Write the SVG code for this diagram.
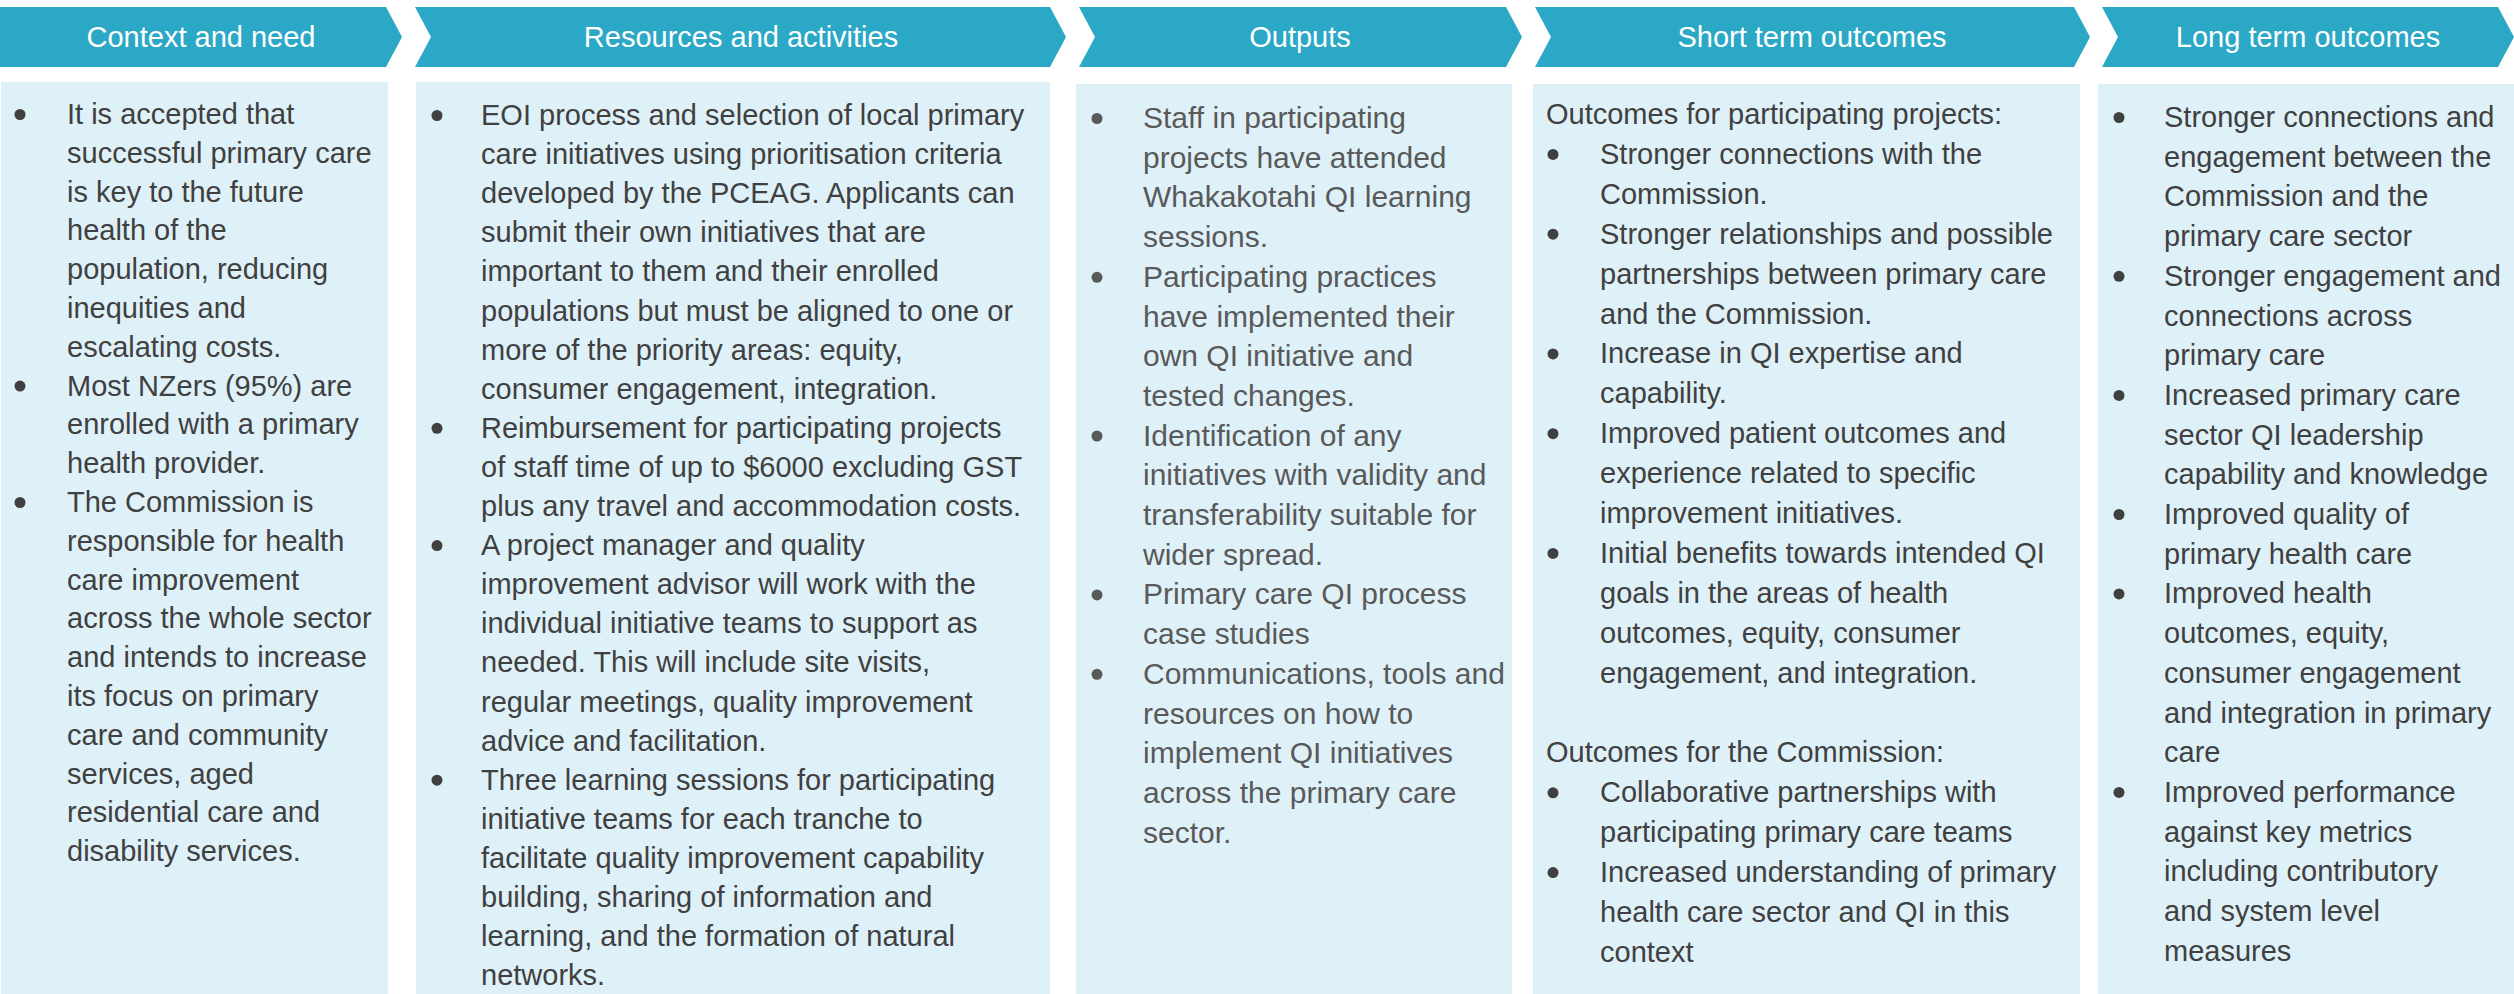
<svg xmlns="http://www.w3.org/2000/svg" width="2514" height="994" viewBox="0 0 2514 994">
  <style>
    .hdr { fill: #2BA8C6; }
    .htxt { font-family: "Liberation Sans", Arial, sans-serif; font-size: 29px; fill: #FFFFFF; text-anchor: middle; }
    .box { fill: #DFF1F8; }
    .txt { font-family: "Liberation Sans", Arial, sans-serif; font-size: 29px; fill: #404040; }
    .txt3 { font-family: "Liberation Sans", Arial, sans-serif; font-size: 30px; fill: #595959; }
    .dot { fill: #404040; }
    .dot3 { fill: #595959; }
  </style>
  <rect width="2514" height="994" fill="#FFFFFF"/>

  <!-- Column 1: Context and need -->
  <g id="context-and-need">
    <polygon class="hdr" points="0,7 386,7 402,37 386,67 0,67"/>
    <text class="htxt" x="201" y="47">Context and need</text>
    <rect class="box" x="1" y="82" width="387" height="912"/>
    <g class="dot">
      <circle cx="20" cy="114.5" r="5.5"/>
      <circle cx="20" cy="386.1" r="5.5"/>
      <circle cx="20" cy="502.5" r="5.5"/>
    </g>
    <text class="txt">
      <tspan x="67" y="124">It is accepted that</tspan>
      <tspan x="67" y="162.8">successful primary care</tspan>
      <tspan x="67" y="201.6">is key to the future</tspan>
      <tspan x="67" y="240.4">health of the</tspan>
      <tspan x="67" y="279.2">population, reducing</tspan>
      <tspan x="67" y="318">inequities and</tspan>
      <tspan x="67" y="356.8">escalating costs.</tspan>
      <tspan x="67" y="395.6">Most NZers (95%) are</tspan>
      <tspan x="67" y="434.4">enrolled with a primary</tspan>
      <tspan x="67" y="473.2">health provider.</tspan>
      <tspan x="67" y="512">The Commission is</tspan>
      <tspan x="67" y="550.8">responsible for health</tspan>
      <tspan x="67" y="589.6">care improvement</tspan>
      <tspan x="67" y="628.4">across the whole sector</tspan>
      <tspan x="67" y="667.2">and intends to increase</tspan>
      <tspan x="67" y="706">its focus on primary</tspan>
      <tspan x="67" y="744.8">care and community</tspan>
      <tspan x="67" y="783.6">services, aged</tspan>
      <tspan x="67" y="822.4">residential care and</tspan>
      <tspan x="67" y="861.2">disability services.</tspan>
    </text>
  </g>

  <!-- Column 2: Resources and activities -->
  <g id="resources-and-activities">
    <polygon class="hdr" points="415,7 1050,7 1066,37 1050,67 415,67 431,37"/>
    <text class="htxt" x="741" y="47">Resources and activities</text>
    <rect class="box" x="416" y="82" width="634" height="912"/>
    <g class="dot">
      <circle cx="437" cy="115.5" r="5.5"/>
      <circle cx="437" cy="428.3" r="5.5"/>
      <circle cx="437" cy="545.6" r="5.5"/>
      <circle cx="437" cy="780.2" r="5.5"/>
    </g>
    <text class="txt">
      <tspan x="481" y="125">EOI process and selection of local primary</tspan>
      <tspan x="481" y="164.1">care initiatives using prioritisation criteria</tspan>
      <tspan x="481" y="203.2">developed by the PCEAG. Applicants can</tspan>
      <tspan x="481" y="242.3">submit their own initiatives that are</tspan>
      <tspan x="481" y="281.4">important to them and their enrolled</tspan>
      <tspan x="481" y="320.5">populations but must be aligned to one or</tspan>
      <tspan x="481" y="359.6">more of the priority areas: equity,</tspan>
      <tspan x="481" y="398.7">consumer engagement, integration.</tspan>
      <tspan x="481" y="437.8">Reimbursement for participating projects</tspan>
      <tspan x="481" y="476.9">of staff time of up to $6000 excluding GST</tspan>
      <tspan x="481" y="516">plus any travel and accommodation costs.</tspan>
      <tspan x="481" y="555.1">A project manager and quality</tspan>
      <tspan x="481" y="594.2">improvement advisor will work with the</tspan>
      <tspan x="481" y="633.3">individual initiative teams to support as</tspan>
      <tspan x="481" y="672.4">needed. This will include site visits,</tspan>
      <tspan x="481" y="711.5">regular meetings, quality improvement</tspan>
      <tspan x="481" y="750.6">advice and facilitation.</tspan>
      <tspan x="481" y="789.7">Three learning sessions for participating</tspan>
      <tspan x="481" y="828.8">initiative teams for each tranche to</tspan>
      <tspan x="481" y="867.9">facilitate quality improvement capability</tspan>
      <tspan x="481" y="907">building, sharing of information and</tspan>
      <tspan x="481" y="946.1">learning, and the formation of natural</tspan>
      <tspan x="481" y="985.2">networks.</tspan>
    </text>
  </g>

  <!-- Column 3: Outputs -->
  <g id="outputs">
    <polygon class="hdr" points="1079,7 1506,7 1522,37 1506,67 1079,67 1095,37"/>
    <text class="htxt" x="1300" y="47">Outputs</text>
    <rect class="box" x="1076" y="84" width="436" height="910"/>
    <g class="dot3">
      <circle cx="1097" cy="118.5" r="5.5"/>
      <circle cx="1097" cy="277.3" r="5.5"/>
      <circle cx="1097" cy="436.1" r="5.5"/>
      <circle cx="1097" cy="594.9" r="5.5"/>
      <circle cx="1097" cy="674.3" r="5.5"/>
    </g>
    <text class="txt3">
      <tspan x="1143" y="128">Staff in participating</tspan>
      <tspan x="1143" y="167.7">projects have attended</tspan>
      <tspan x="1143" y="207.4">Whakakotahi QI learning</tspan>
      <tspan x="1143" y="247.1">sessions.</tspan>
      <tspan x="1143" y="286.8">Participating practices</tspan>
      <tspan x="1143" y="326.5">have implemented their</tspan>
      <tspan x="1143" y="366.2">own QI initiative and</tspan>
      <tspan x="1143" y="405.9">tested changes.</tspan>
      <tspan x="1143" y="445.6">Identification of any</tspan>
      <tspan x="1143" y="485.3">initiatives with validity and</tspan>
      <tspan x="1143" y="525">transferability suitable for</tspan>
      <tspan x="1143" y="564.7">wider spread.</tspan>
      <tspan x="1143" y="604.4">Primary care QI process</tspan>
      <tspan x="1143" y="644.1">case studies</tspan>
      <tspan x="1143" y="683.8">Communications, tools and</tspan>
      <tspan x="1143" y="723.5">resources on how to</tspan>
      <tspan x="1143" y="763.2">implement QI initiatives</tspan>
      <tspan x="1143" y="802.9">across the primary care</tspan>
      <tspan x="1143" y="842.6">sector.</tspan>
    </text>
  </g>

  <!-- Column 4: Short term outcomes -->
  <g id="short-term-outcomes">
    <polygon class="hdr" points="1535,7 2074,7 2090,37 2074,67 1535,67 1551,37"/>
    <text class="htxt" x="1812" y="47">Short term outcomes</text>
    <rect class="box" x="1533" y="84" width="547" height="910"/>
    <g class="dot">
      <circle cx="1553" cy="154.4" r="5.5"/>
      <circle cx="1553" cy="234.2" r="5.5"/>
      <circle cx="1553" cy="353.9" r="5.5"/>
      <circle cx="1553" cy="433.7" r="5.5"/>
      <circle cx="1553" cy="553.4" r="5.5"/>
      <circle cx="1553" cy="792.8" r="5.5"/>
      <circle cx="1553" cy="872.6" r="5.5"/>
    </g>
    <text class="txt">
      <tspan x="1546" y="124">Outcomes for participating projects:</tspan>
      <tspan x="1600" y="163.9">Stronger connections with the</tspan>
      <tspan x="1600" y="203.8">Commission.</tspan>
      <tspan x="1600" y="243.7">Stronger relationships and possible</tspan>
      <tspan x="1600" y="283.6">partnerships between primary care</tspan>
      <tspan x="1600" y="323.5">and the Commission.</tspan>
      <tspan x="1600" y="363.4">Increase in QI expertise and</tspan>
      <tspan x="1600" y="403.3">capability.</tspan>
      <tspan x="1600" y="443.2">Improved patient outcomes and</tspan>
      <tspan x="1600" y="483.1">experience related to specific</tspan>
      <tspan x="1600" y="523">improvement initiatives.</tspan>
      <tspan x="1600" y="562.9">Initial benefits towards intended QI</tspan>
      <tspan x="1600" y="602.8">goals in the areas of health</tspan>
      <tspan x="1600" y="642.7">outcomes, equity, consumer</tspan>
      <tspan x="1600" y="682.6">engagement, and integration.</tspan>
      <tspan x="1546" y="762.4">Outcomes for the Commission:</tspan>
      <tspan x="1600" y="802.3">Collaborative partnerships with</tspan>
      <tspan x="1600" y="842.2">participating primary care teams</tspan>
      <tspan x="1600" y="882.1">Increased understanding of primary</tspan>
      <tspan x="1600" y="922">health care sector and QI in this</tspan>
      <tspan x="1600" y="961.9">context</tspan>
    </text>
  </g>

  <!-- Column 5: Long term outcomes -->
  <g id="long-term-outcomes">
    <polygon class="hdr" points="2102,7 2498,7 2514,37 2498,67 2102,67 2118,37"/>
    <text class="htxt" x="2308" y="47">Long term outcomes</text>
    <rect class="box" x="2098" y="84" width="416" height="910"/>
    <g class="dot">
      <circle cx="2119" cy="117.5" r="5.5"/>
      <circle cx="2119" cy="276.3" r="5.5"/>
      <circle cx="2119" cy="395.4" r="5.5"/>
      <circle cx="2119" cy="514.5" r="5.5"/>
      <circle cx="2119" cy="593.9" r="5.5"/>
      <circle cx="2119" cy="792.4" r="5.5"/>
    </g>
    <text class="txt">
      <tspan x="2164" y="127">Stronger connections and</tspan>
      <tspan x="2164" y="166.7">engagement between the</tspan>
      <tspan x="2164" y="206.4">Commission and the</tspan>
      <tspan x="2164" y="246.1">primary care sector</tspan>
      <tspan x="2164" y="285.8">Stronger engagement and</tspan>
      <tspan x="2164" y="325.5">connections across</tspan>
      <tspan x="2164" y="365.2">primary care</tspan>
      <tspan x="2164" y="404.9">Increased primary care</tspan>
      <tspan x="2164" y="444.6">sector QI leadership</tspan>
      <tspan x="2164" y="484.3">capability and knowledge</tspan>
      <tspan x="2164" y="524">Improved quality of</tspan>
      <tspan x="2164" y="563.7">primary health care</tspan>
      <tspan x="2164" y="603.4">Improved health</tspan>
      <tspan x="2164" y="643.1">outcomes, equity,</tspan>
      <tspan x="2164" y="682.8">consumer engagement</tspan>
      <tspan x="2164" y="722.5">and integration in primary</tspan>
      <tspan x="2164" y="762.2">care</tspan>
      <tspan x="2164" y="801.9">Improved performance</tspan>
      <tspan x="2164" y="841.6">against key metrics</tspan>
      <tspan x="2164" y="881.3">including contributory</tspan>
      <tspan x="2164" y="921">and system level</tspan>
      <tspan x="2164" y="960.7">measures</tspan>
    </text>
  </g>
</svg>
